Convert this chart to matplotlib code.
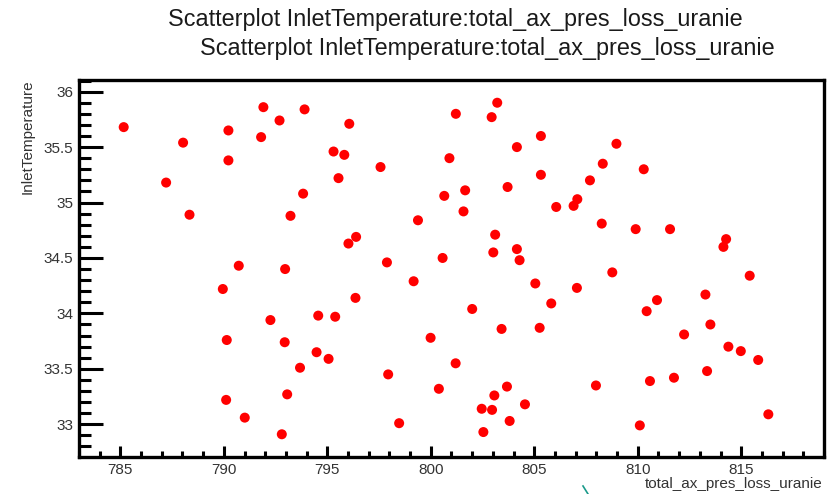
import matplotlib
matplotlib.use("Agg")
import matplotlib.pyplot as plt
from matplotlib.ticker import MultipleLocator
from matplotlib.lines import Line2D

plt.rcParams['font.family'] = ['Liberation Sans', 'DejaVu Sans']

title = "Scatterplot InletTemperature:total_ax_pres_loss_uranie"
x_label = "total_ax_pres_loss_uranie"
y_label = "InletTemperature"

pres_loss = [
    785.16, 788.03, 787.21, 788.34, 790.22, 790.22, 791.80, 791.91, 792.69, 793.90,
    793.83, 793.22, 790.72, 792.96, 789.95, 792.25, 794.56, 790.14, 792.94, 794.48,
    793.68, 793.06, 790.11, 791.01, 792.80, 796.06, 795.30, 795.82, 797.57, 795.54,
    801.21, 803.21, 802.94, 805.32, 804.16, 800.90, 805.32, 803.71, 801.66, 800.65,
    801.58, 806.06, 799.38, 803.11, 796.39, 796.02, 797.88, 800.57, 803.02, 804.16,
    804.29, 808.97, 808.31, 810.29, 807.69, 807.08, 806.90, 808.26, 809.90, 811.56,
    814.27, 814.14, 808.77, 805.05, 815.41, 807.06, 805.82, 813.27, 810.93, 810.43,
    813.51, 805.26, 812.24, 814.38, 814.98, 815.82, 813.35, 811.75, 810.59, 807.98,
    816.31, 810.10, 799.17, 796.36, 802.00, 795.38, 803.42, 799.99, 795.06, 801.20,
    797.94, 800.39, 803.68, 803.07, 802.46, 802.96, 804.55, 803.81, 798.47, 802.54,
]
inlet_temp = [
    35.68, 35.54, 35.18, 34.89, 35.65, 35.38, 35.59, 35.86, 35.74, 35.84,
    35.08, 34.88, 34.43, 34.40, 34.22, 33.94, 33.98, 33.76, 33.74, 33.65,
    33.51, 33.27, 33.22, 33.06, 32.91, 35.71, 35.46, 35.43, 35.32, 35.22,
    35.80, 35.90, 35.77, 35.60, 35.50, 35.40, 35.25, 35.14, 35.11, 35.06,
    34.92, 34.96, 34.84, 34.71, 34.69, 34.63, 34.46, 34.50, 34.55, 34.58,
    34.48, 35.53, 35.35, 35.30, 35.20, 35.03, 34.97, 34.81, 34.76, 34.76,
    34.67, 34.60, 34.37, 34.27, 34.34, 34.23, 34.09, 34.17, 34.12, 34.02,
    33.90, 33.87, 33.81, 33.70, 33.66, 33.58, 33.48, 33.42, 33.39, 33.35,
    33.09, 32.99, 34.29, 34.14, 34.04, 33.97, 33.86, 33.78, 33.59, 33.55,
    33.45, 33.32, 33.34, 33.26, 33.14, 33.13, 33.18, 33.03, 33.01, 32.93,
]
x_ticks = [785, 790, 795, 800, 805, 810, 815]
y_ticks = [33, 33.5, 34, 34.5, 35, 35.5, 36]
y_tick_labels = ["33", "33.5", "34", "34.5", "35", "35.5", "36"]

W, H = 829, 494
fig = plt.figure(figsize=(W / 100, H / 100), dpi=100)
ax = fig.add_axes([79 / W, 1 - 457 / H, (824 - 79) / W, (457 - 80) / H])

ax.scatter(pres_loss, inlet_temp, s=52, color='#ff0000', edgecolors='none', zorder=3)

ax.set_xlim(783, 819)
ax.set_ylim(32.705, 36.105)
ax.set_xticks(x_ticks)
ax.set_xticklabels([str(v) for v in x_ticks])
ax.set_yticks(y_ticks)
ax.set_yticklabels(y_tick_labels)
ax.xaxis.set_minor_locator(MultipleLocator(1))
ax.yaxis.set_minor_locator(MultipleLocator(0.1))

for sp in ax.spines.values():
    sp.set_linewidth(2.4)
    sp.set_color('black')

lab_col = '#333333'
ax.tick_params(axis='both', which='both', direction='in', color='black',
               labelcolor=lab_col, labelsize=11, width=2.2)
ax.tick_params(axis='x', which='major', length=8, pad=4, top=False)
ax.tick_params(axis='x', which='minor', length=4.3, top=False)
ax.tick_params(axis='y', which='major', length=17, pad=4, right=False)
ax.tick_params(axis='y', which='minor', length=8.6, right=False)

fig.text(168 / W, 1 - 26 / H, title, fontsize=16.8, ha='left', va='baseline', color='#1a1a1a')
fig.text(200 / W, 1 - 55 / H, title, fontsize=16.8, ha='left', va='baseline', color='#1a1a1a')

fig.text(823 / W, 1 - 488 / H, x_label, fontsize=11, ha='right', va='baseline', color=lab_col)
fig.text(28 / W, 1 - 79 / H, y_label, fontsize=11, rotation=90, ha='center', va='top', color=lab_col)

fig.add_artist(Line2D([583 / W, 588 / W], [1 - 486 / H, 1 - 494 / H],
                      transform=fig.transFigure, color='#1a9a8a', linewidth=1.2))

fig.savefig("out.png", dpi=100)
